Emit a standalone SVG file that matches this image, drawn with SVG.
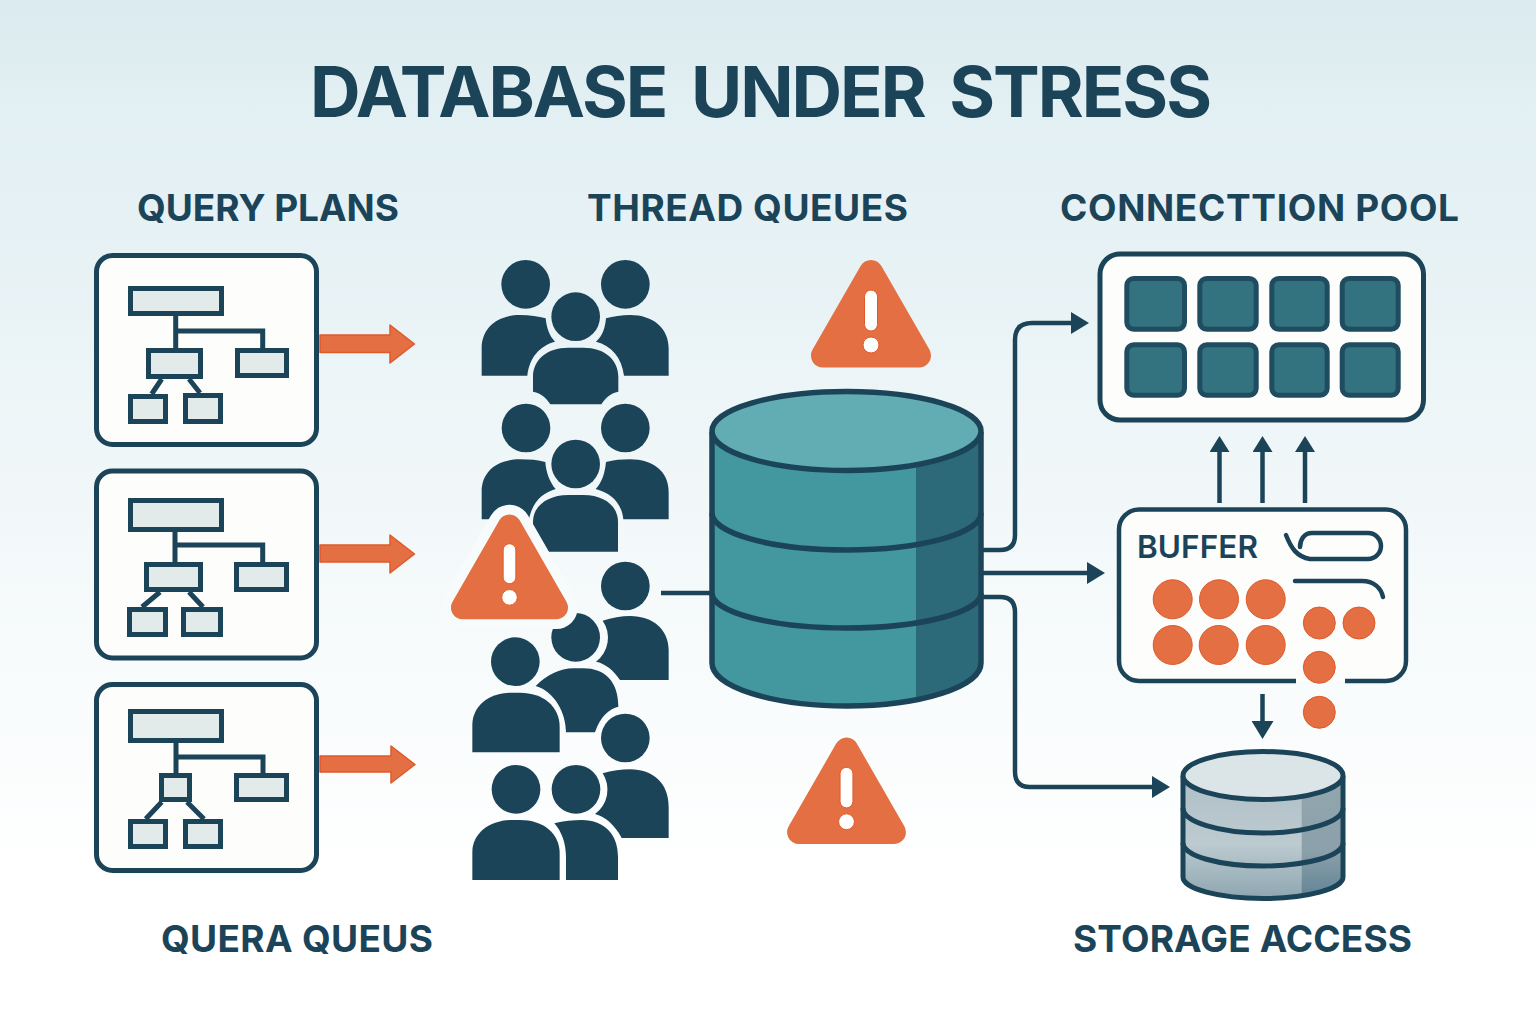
<svg xmlns="http://www.w3.org/2000/svg" xmlns:xlink="http://www.w3.org/1999/xlink" width="1536" height="1024" viewBox="0 0 1536 1024">
<style>
text{font-family:"Inter","Liberation Sans",sans-serif;fill:#1b4459;font-weight:700}
.title{font-size:70px;word-spacing:10px}
.label{font-size:37px;font-weight:700}
.card{fill:#fdfdfc;stroke:#1c4459;stroke-width:5}
.box{fill:#e2ebea;stroke:#1c4459;stroke-width:5}
.link{fill:none;stroke:#1c4459;stroke-width:5}
.wire{fill:none;stroke:#1c4459;stroke-width:4.5}
.person{fill:#1b4459}
.orange{fill:#e36f42;stroke:#e0592a;stroke-width:1.500;stroke-linejoin:round}
.tri{fill:#e36f42;stroke:#e36f42;stroke-width:24;stroke-linejoin:round}
.halo{fill:#f8fbfc;stroke:#f8fbfc;stroke-width:44;stroke-linejoin:round}
.mark{fill:#fff;stroke:#e0592a;stroke-width:1}
.cell{fill:#33727f;stroke:#1f4c60;stroke-width:5}
.dot{fill:#e36f42;stroke:#e0592a;stroke-width:1}
.edge{fill:none;stroke:#1c4459;stroke-width:5.5}
.sedge{fill:none;stroke:#1c4459;stroke-width:5}
</style>
<defs>
<linearGradient id="bg" x1="0" y1="0" x2="0" y2="1">
<stop offset="0" stop-color="#dbebef"/><stop offset="0.1" stop-color="#e2eff3"/><stop offset="0.3" stop-color="#e9f3f6"/><stop offset="0.6" stop-color="#f6fafb"/><stop offset="0.86" stop-color="#ffffff"/><stop offset="1" stop-color="#ffffff"/>
</linearGradient>
<linearGradient id="sbody" x1="0" y1="0" x2="0" y2="1"><stop offset="0" stop-color="#aebfc6"/><stop offset="0.55" stop-color="#bccbd0"/><stop offset="1" stop-color="#8ea6b1"/></linearGradient>
<linearGradient id="sdark" x1="0" y1="0" x2="0" y2="1"><stop offset="0" stop-color="#93a7ae"/><stop offset="0.6" stop-color="#8ba0aa"/><stop offset="1" stop-color="#5b7f93"/></linearGradient>
<marker id="ah" markerUnits="userSpaceOnUse" viewBox="0 0 18 22" refX="0" refY="11" markerWidth="18" markerHeight="22" orient="auto"><path d="M0 0L18 11L0 22Z" fill="#1c4459"/></marker>
<marker id="ahs" markerUnits="userSpaceOnUse" viewBox="0 0 16 20" refX="0" refY="10" markerWidth="16" markerHeight="20" orient="auto"><path d="M0 0L16 10L0 20Z" fill="#1c4459"/></marker>
<clipPath id="dbclip"><path d="M712 432V663A134.5 43 0 0 0 981 663V432Z"/></clipPath>
<clipPath id="sclip"><path d="M1183 776V877A80 21.5 0 0 0 1343 877V776Z"/></clipPath>
<path id="tri" d="M0 -47.5L-48 36H48Z"/>
<g id="excl"><rect class="mark" x="-6.5" y="-29.5" width="13" height="41" rx="6.5"/><circle class="mark" cx="0" cy="25.5" r="8"/></g>
</defs>
<rect width="1536" height="1024" fill="url(#bg)"/>

<g id="titles">
<text class="title" x="310" y="116.5" textLength="902">DATABASE UNDER STRESS</text>
<text class="label" x="137" y="221" textLength="262">QUERY PLANS</text>
<text class="label" x="587" y="221" textLength="321">THREAD QUEUES</text>
<text class="label" x="1060" y="221" textLength="399">CONNECTTION POOL</text>
<text class="label" x="161" y="952" textLength="272">QUERA QUEUS</text>
<text class="label" x="1073" y="952" textLength="339">STORAGE ACCESS</text>
</g>

<g id="connectors">
<path class="wire" d="M661 593H714"/>
<path class="wire" d="M980 550H1000Q1015 550 1015 535V340Q1015 323 1032 323H1071" marker-end="url(#ah)"/>
<path class="wire" d="M980 573H1087" marker-end="url(#ah)"/>
<path class="wire" d="M980 597H1000Q1015 597 1015 612V772Q1015 787 1030 787H1152" marker-end="url(#ah)"/>
<path class="wire" d="M1219.5 503V452" marker-end="url(#ahs)"/>
<path class="wire" d="M1262.5 503V452" marker-end="url(#ahs)"/>
<path class="wire" d="M1305 503V452" marker-end="url(#ahs)"/>
<path class="wire" d="M1262.5 694V721" marker-end="url(#ah)"/>
<path class="orange" d="M320 335H390V325L414.5 344L390 363V352.500H320Z"/>
<path class="orange" d="M320 545H390V535L414.500 554L390 573V562H320Z"/>
<path class="orange" d="M320 756H391V746L415 764.500L391 783V772H320Z"/>
</g>

<g id="plan-1">
<rect class="card" x="96.500" y="255.500" width="220" height="189" rx="16"/>
<path class="link" d="M175.700 316V348M175.700 331H262.700V348M161.700 379L151.700 394M189 379L200 393"/>
<rect class="box" x="130.500" y="288.500" width="91" height="25"/>
<rect class="box" x="148.500" y="350.500" width="52" height="26"/>
<rect class="box" x="237.500" y="350.500" width="49" height="25"/>
<rect class="box" x="130.500" y="396.500" width="35" height="25"/>
<rect class="box" x="185.500" y="395.500" width="35" height="26"/>
</g>
<g id="plan-2">
<rect class="card" x="96.500" y="471" width="220" height="187" rx="16"/>
<path class="link" d="M175 532V562M175 545H262.700V562M160 592L142 607M189 592L203 607"/>
<rect class="box" x="130.500" y="500.500" width="91" height="29"/>
<rect class="box" x="146.500" y="564.500" width="54" height="25"/>
<rect class="box" x="236.500" y="564.500" width="50" height="25"/>
<rect class="box" x="129.500" y="609.500" width="36" height="25"/>
<rect class="box" x="183.500" y="609.500" width="37" height="25"/>
</g>
<g id="plan-3">
<rect class="card" x="96.500" y="684.500" width="220" height="186" rx="16"/>
<path class="link" d="M176 743V774M176 757H263V774M161.700 802L145.700 819M187 802L204 819"/>
<rect class="box" x="130.500" y="711.500" width="91" height="29"/>
<rect class="box" x="161.500" y="775.500" width="28" height="24"/>
<rect class="box" x="236.500" y="775.500" width="50" height="24"/>
<rect class="box" x="130.500" y="821.500" width="35" height="25"/>
<rect class="box" x="185.500" y="821.500" width="35" height="25"/>
</g>

<g id="queue-top" class="person" transform="translate(440 250) scale(.33333)">
<circle cx="257" cy="103" r="73"/><circle cx="556" cy="103" r="73"/><circle cx="407" cy="200" r="73"/>
<path d="M125 377V295C125 235 170 195 240 195C270 195 295 199 317 205C320 235 328 258 345 275C300 287 268 322 262 377Z"/>
<path d="M686 377V295C686 235 640 195 570 195C545 195 520 199 498 205C495 235 488 258 468 275C515 287 545 322 552 377Z"/>
<path d="M279 380C279 330 320 293 385 293H430C495 293 535 330 535 380V425C510 430 495 445 484 463H331C320 445 305 430 279 425Z"/>
<circle cx="258" cy="534" r="73"/><circle cx="556" cy="534" r="73"/><circle cx="407" cy="642" r="73"/>
<path d="M125 808V725C125 665 170 628 240 628C270 628 295 630 316 636C318 665 328 695 347 717C305 730 278 755 267 808Z"/>
<path d="M686 808V725C686 665 640 628 570 628C545 628 520 630 498 636C495 665 488 695 467 717C515 730 545 760 550 808Z"/>
<path d="M279 815C279 770 320 735 385 735H430C495 735 534 770 534 815V905H325L279 825Z"/>
</g>
<g id="queue-bottom" class="person" transform="translate(440 550) scale(.33333)">
<circle cx="556" cy="108" r="73"/><circle cx="407" cy="262" r="73"/>
<path d="M686 390V300C686 240 640 198 570 198C545 198 515 203 488 212A90 90 0 0 1 468 335C495 340 520 360 540 390Z"/>
<path d="M287 408C320 375 360 355 400 355H430C495 355 535 395 535 470C510 475 480 500 465 547H378C378 490 345 425 287 408Z"/>
<circle cx="226" cy="335" r="73"/>
<path d="M97 607V525C97 465 150 428 215 428H240C310 428 359 470 359 530V607Z"/>
<circle cx="556" cy="564" r="73"/>
<path d="M686 864V770C686 700 640 658 570 658C545 658 515 662 488 670A90 90 0 0 1 465 792C495 800 525 825 545 864Z"/>
<circle cx="228" cy="718" r="73"/><circle cx="408" cy="718" r="73"/>
<path d="M97 990V905C97 850 150 810 215 810H240C310 810 359 850 359 910V990Z"/>
<path d="M343 820C370 812 400 810 425 810C495 810 534 855 534 920V990H378V920C378 880 365 845 343 820Z"/>
</g>

<g id="warning-left" transform="translate(509.500 572.500) scale(.975)">
<use href="#tri" class="halo"/><use href="#tri" class="tri"/><use href="#excl"/>
</g>
<g id="warning-top" transform="translate(871 319.500)">
<use href="#tri" class="tri"/><use href="#excl"/>
</g>
<g id="warning-bottom" transform="translate(846.500 796.500) scale(.99)">
<use href="#tri" class="tri"/><use href="#excl"/>
</g>

<g id="database">
<path d="M712 432V663A134.500 43 0 0 0 981 663V432Z" fill="#43979f"/>
<rect x="916" y="420" width="70" height="295" fill="#2c6a79" clip-path="url(#dbclip)"/>
<path class="edge" d="M712 513A134.500 37 0 0 0 981 513M712 593A134.500 35 0 0 0 981 593"/>
<path class="edge" d="M712 432V663A134.500 43 0 0 0 981 663V432"/>
<ellipse cx="846.500" cy="431" rx="134.500" ry="39.500" fill="#62adb3" stroke="#1c4459" stroke-width="5.500"/>
</g>

<g id="connection-pool">
<rect class="card" x="1100" y="254" width="323.500" height="166" rx="20"/>
<rect class="cell" x="1126.800" y="278.500" width="57.700" height="50.700" rx="7"/>
<rect class="cell" x="1199.800" y="278.500" width="56.400" height="50.700" rx="7"/>
<rect class="cell" x="1271.800" y="278.500" width="55.400" height="50.700" rx="7"/>
<rect class="cell" x="1342.200" y="278.500" width="56" height="50.700" rx="7"/>
<rect class="cell" x="1126.800" y="344.800" width="57.700" height="50.400" rx="7"/>
<rect class="cell" x="1199.800" y="344.800" width="56.400" height="50.400" rx="7"/>
<rect class="cell" x="1271.800" y="344.800" width="55.400" height="50.400" rx="7"/>
<rect class="cell" x="1342.200" y="344.800" width="56" height="50.400" rx="7"/>
</g>

<g id="buffer">
<path d="M1139 509.500H1386A20 20 0 0 1 1406 529.500V661A20 20 0 0 1 1386 681H1139A20 20 0 0 1 1119 661V529.500A20 20 0 0 1 1139 509.500Z" fill="#fdfdfc"/>
<path class="wire" d="M1296 681H1139A20 20 0 0 1 1119 661V529.500A20 20 0 0 1 1139 509.500H1386A20 20 0 0 1 1406 529.500V661A20 20 0 0 1 1386 681H1345"/>
<text x="1137" y="558" font-size="31.500" style="font-size:31.500px;font-weight:600" textLength="121">BUFFER</text>
<path class="wire" stroke-linecap="round" d="M1286 535C1291 548 1297 557 1310 559H1368A13 13 0 0 0 1368 533H1312C1304 533 1300 540 1300 547"/>
<path class="wire" stroke-linecap="round" d="M1295 581H1362C1374 581 1381 588 1383 597"/>
<circle class="dot" cx="1172.700" cy="599.300" r="19.500"/>
<circle class="dot" cx="1219" cy="599.300" r="19.500"/>
<circle class="dot" cx="1265.700" cy="599.300" r="19.500"/>
<circle class="dot" cx="1172.700" cy="645" r="19.500"/>
<circle class="dot" cx="1218.700" cy="645" r="19.500"/>
<circle class="dot" cx="1265.700" cy="645" r="19.500"/>
<circle class="dot" cx="1319.300" cy="623" r="16"/>
<circle class="dot" cx="1359" cy="623" r="16"/>
<circle class="dot" cx="1319.300" cy="667.300" r="16"/>
<circle class="dot" cx="1319.300" cy="712.300" r="16"/>
</g>

<g id="storage">
<path d="M1183 776V877A80 21.500 0 0 0 1343 877V776Z" fill="url(#sbody)"/>
<rect x="1301.700" y="770" width="45" height="135" fill="url(#sdark)" clip-path="url(#sclip)"/>
<path class="sedge" d="M1183 808A80 25 0 0 0 1343 808M1183 843A80 23 0 0 0 1343 843"/>
<path class="sedge" d="M1183 776V877A80 21.500 0 0 0 1343 877V776"/>
<ellipse cx="1263" cy="775.500" rx="80" ry="24" fill="#dbe4e6" stroke="#1c4459" stroke-width="5"/>
</g>
</svg>
